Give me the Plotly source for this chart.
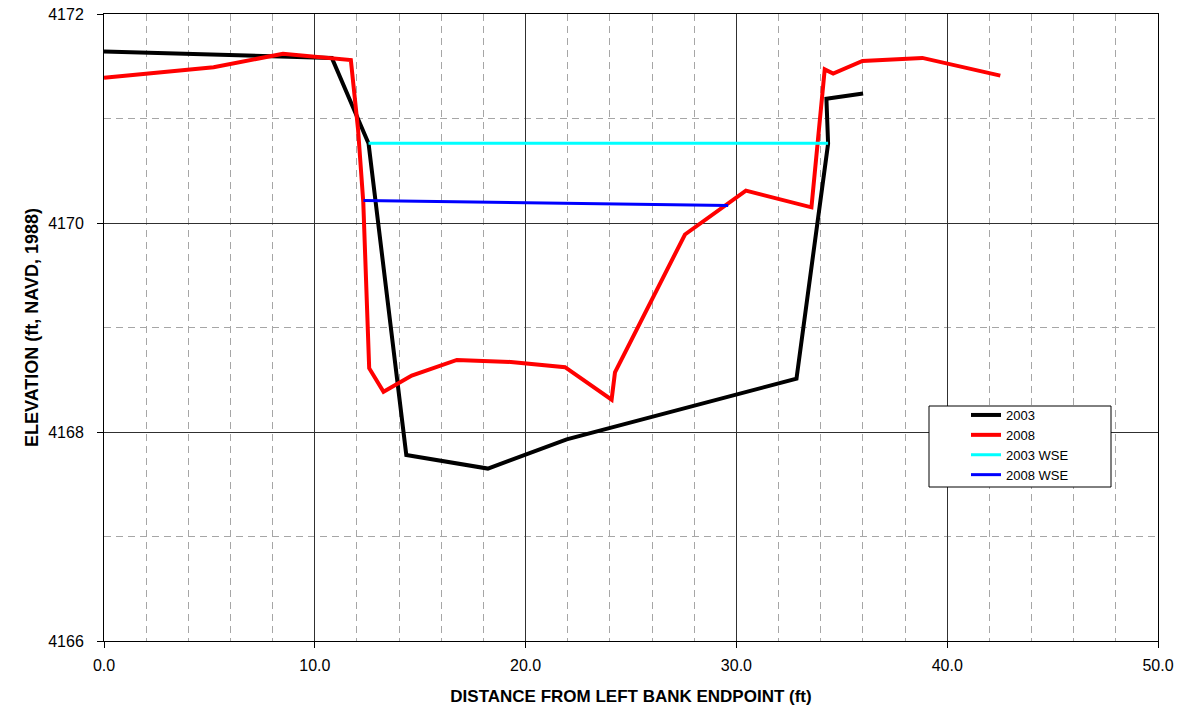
import plotly.graph_objects as go

# 2003 ground profile
x_2003 = [0.0, 10.81, 12.55, 14.34, 18.21, 21.95, 32.85, 34.35, 34.27, 36.01]
y_2003 = [4171.64, 4171.58, 4170.76, 4167.78, 4167.65, 4167.93, 4168.51, 4170.76, 4171.19, 4171.24]

# 2008 ground profile
x_2008 = [0.0, 5.2, 8.49, 11.71, 12.05, 12.3, 12.58, 13.26, 14.6, 16.74, 19.3, 21.87,
          24.08, 24.24, 27.56, 30.45, 33.56, 34.19, 34.59, 35.98, 38.82, 42.52]
y_2008 = [4171.39, 4171.49, 4171.62, 4171.56, 4170.9, 4170.2, 4168.61, 4168.385, 4168.54,
          4168.69, 4168.67, 4168.62, 4168.31, 4168.57, 4169.89, 4170.31, 4170.15, 4171.47,
          4171.43, 4171.55, 4171.58, 4171.41]

# water surface elevations
x_wse_2003 = [12.55, 34.35]
y_wse_2003 = [4170.763, 4170.763]
x_wse_2008 = [12.31, 29.61]
y_wse_2008 = [4170.216, 4170.168]

x_ticks = [0, 10, 20, 30, 40, 50]
y_ticks = [4166, 4168, 4170, 4172]

FONT = "Liberation Sans, Arial, sans-serif"

fig = go.Figure()
fig.add_trace(go.Scatter(x=x_2003, y=y_2003, mode="lines", name="2003",
                         line=dict(color="#000000", width=4)))
fig.add_trace(go.Scatter(x=x_2008, y=y_2008, mode="lines", name="2008",
                         line=dict(color="#ff0000", width=4)))
fig.add_trace(go.Scatter(x=x_wse_2003, y=y_wse_2003, mode="lines", name="2003 WSE",
                         line=dict(color="#00ffff", width=3)))
fig.add_trace(go.Scatter(x=x_wse_2008, y=y_wse_2008, mode="lines", name="2008 WSE",
                         line=dict(color="#0000ff", width=3)))

W, H = 1196, 711
PL, PR, PT, PB = 104, 1158, 14, 641  # plot area in page pixels
L, R, T, B = PL, W - PR, PT, H - PB
pw, ph = W - L - R, H - T - B

def px2x(p):
    return (p - PL) / pw

def py2y(p):
    return (PB - p) / ph

fig.add_shape(type="rect", xref="paper", yref="paper",
              x0=px2x(929), x1=px2x(1111), y0=py2y(487), y1=py2y(406),
              fillcolor="white", line=dict(color="black", width=1), layer="above")

fig.update_layout(
    width=W, height=H,
    margin=dict(l=L, r=R, t=T, b=B),
    paper_bgcolor="white", plot_bgcolor="white",
    font=dict(family=FONT, size=16, color="black"),
    showlegend=True,
    legend=dict(x=px2x(966), y=py2y(400), xanchor="left", yanchor="top",
                bgcolor="rgba(0,0,0,0)", borderwidth=0,
                font=dict(family=FONT, size=13, color="black"),
                tracegroupgap=0),
    xaxis=dict(
        range=[0, 50], tickvals=x_ticks, tickformat=".1f",
        showgrid=True, gridcolor="#303030", gridwidth=1,
        showline=True, linecolor="black", linewidth=1, mirror=True,
        ticks="outside", ticklen=6, tickcolor="black",
        ticklabelstandoff=4, ticklabeloverflow="allow",
        zeroline=False, automargin=False,
        minor=dict(dtick=2, showgrid=True, gridcolor="#a6a6a6", griddash="7px,5px", gridwidth=1),
        title=dict(text="<b>DISTANCE FROM LEFT BANK ENDPOINT (ft)</b>",
                   font=dict(family=FONT, size=17), standoff=16),
        tickfont=dict(family=FONT, size=16),
    ),
    yaxis=dict(
        range=[4166, 4172], tickvals=y_ticks, tickformat="d",
        showgrid=True, gridcolor="#303030", gridwidth=1,
        showline=True, linecolor="black", linewidth=1, mirror=True,
        ticks="outside", ticklen=6, tickcolor="black",
        ticklabelstandoff=10, ticklabeloverflow="allow",
        zeroline=False, automargin=False,
        minor=dict(dtick=1, showgrid=True, gridcolor="#a6a6a6", griddash="7px,5px", gridwidth=1),
        title=dict(text="<b>ELEVATION (ft, NAVD, 1988)</b>",
                   font=dict(family=FONT, size=18), standoff=4),
        tickfont=dict(family=FONT, size=16),
    ),
)

fig.write_html("out.html", config={"displayModeBar": False},
               post_script="document.body.style.margin='0px';")
